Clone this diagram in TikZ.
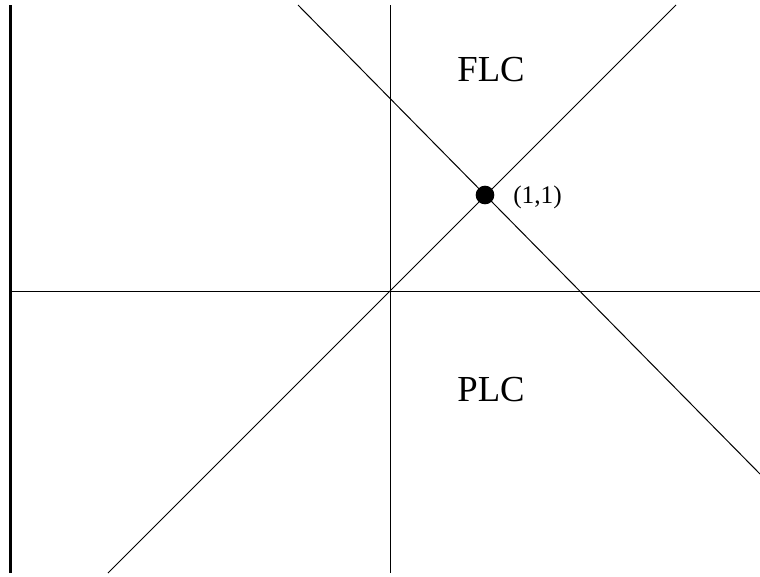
\documentclass[tikz,border=0pt]{standalone}
\usepackage{fontspec}
\setmainfont{Liberation Serif}
\begin{document}
\begin{tikzpicture}[x=0.75pt,y=-0.75pt,
  axis/.style={line width=0.75pt, black},
  wall/.style={line width=2.4pt, black},
  lbl/.style={font=\fontsize{27.5pt}{30pt}\selectfont, inner sep=0pt},
  small/.style={font=\fontsize{19pt}{22pt}\selectfont, inner sep=0pt},
  pt/.style={circle, fill=black, inner sep=0pt, minimum size=14pt}]
\useasboundingbox (0,0) rectangle (760,576);
% endpoints
\coordinate (wt) at (10.5,5);
\coordinate (wb) at (10.5,573);
\coordinate (hl) at (10,291);
\coordinate (hr) at (760,291);
\coordinate (vt) at (390,5);
\coordinate (vb) at (390,573);
\coordinate (d1a) at (108,573);
\coordinate (d1b) at (676,5);
\coordinate (d2a) at (298,5);
\coordinate (d2b) at (760,474);
% lines
\draw[wall] (wt) -- (wb);
\draw[axis] (hl) -- (hr);
\draw[axis] (vt) -- (vb);
\draw[axis] (d1a) -- (d1b);
\draw[axis] (d2a) -- (d2b);
% point and labels
\node[pt] (p) at (485,195) {};
\node[small, anchor=west] (plabel) at (513,197) {(1,1)};
\node[lbl] (flc) at (491,70) {FLC};
\node[lbl] (plc) at (491,390) {PLC};
\end{tikzpicture}
\end{document}
